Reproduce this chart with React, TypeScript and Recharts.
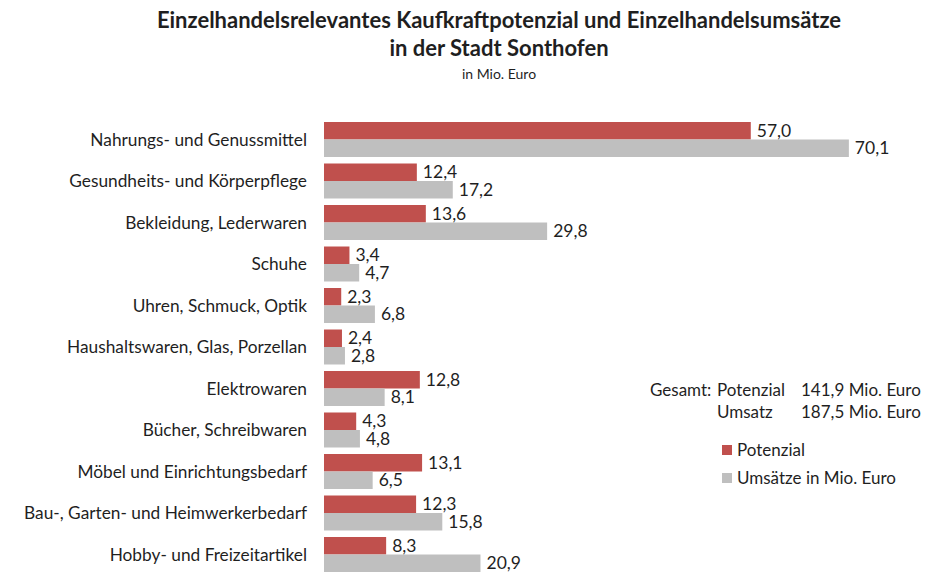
import React from "react";
import { Bar, BarChart, LabelList, XAxis, YAxis } from "recharts";

const categories = [
  "Nahrungs- und Genussmittel",
  "Gesundheits- und Körperpflege",
  "Bekleidung, Lederwaren",
  "Schuhe",
  "Uhren, Schmuck, Optik",
  "Haushaltswaren, Glas, Porzellan",
  "Elektrowaren",
  "Bücher, Schreibwaren",
  "Möbel und Einrichtungsbedarf",
  "Bau-, Garten- und Heimwerkerbedarf",
  "Hobby- und Freizeitartikel"
];
const potenzial = [57.0, 12.4, 13.6, 3.4, 2.3, 2.4, 12.8, 4.3, 13.1, 12.3, 8.3];
const umsatz = [70.1, 17.2, 29.8, 4.7, 6.8, 2.8, 8.1, 4.8, 6.5, 15.8, 20.9];

const RED = "#C0504D";
const GRAY = "#BFBFBF";
const TEXT = "#1f1f1f";
const FONT = "Lato, 'Open Sans', sans-serif";

const data = categories.map((name, i) => ({
  name,
  potenzial: potenzial[i],
  umsatz: umsatz[i]
}));

const fmt = (v: any) => Number(v).toFixed(1).replace(".", ",");

function LegendBlock() {
  const txt = { position: "absolute" as const, whiteSpace: "nowrap" as const };
  return (
    <div
      style={{
        position: "absolute",
        left: 0,
        top: 0,
        fontFamily: FONT,
        fontSize: 17,
        color: TEXT,
        lineHeight: "22px"
      }}
    >
      <span style={{ ...txt, left: 650, top: 379 }}>Gesamt:</span>
      <span style={{ ...txt, left: 717, top: 379 }}>Potenzial</span>
      <span style={{ ...txt, left: 801, top: 379 }}>141,9 Mio. Euro</span>
      <span style={{ ...txt, left: 717, top: 401 }}>Umsatz</span>
      <span style={{ ...txt, left: 801, top: 401 }}>187,5 Mio. Euro</span>
      <span style={{ ...txt, left: 722, top: 445, width: 10, height: 10, background: RED }} />
      <span style={{ ...txt, left: 737, top: 439 }}>Potenzial</span>
      <span style={{ ...txt, left: 722, top: 473, width: 10, height: 10, background: GRAY }} />
      <span style={{ ...txt, left: 737, top: 467 }}>Umsätze in Mio. Euro</span>
    </div>
  );
}

export default function App() {
  return (
    <div
      style={{
        position: "fixed",
        left: 0,
        top: 0,
        width: 941,
        height: 573,
        overflow: "hidden",
        background: "#fff"
      }}
    >
      <BarChart
        width={941}
        height={575.5}
        data={data}
        layout="vertical"
        margin={{ top: 119, right: 18, bottom: 0, left: 0 }}
        barGap={0}
        barCategoryGap={3.25}
        style={{ position: "absolute", left: 0, top: 0 }}
      >
        <XAxis type="number" domain={[0, 80]} hide />
        <YAxis
          type="category"
          dataKey="name"
          width={324}
          tickLine={false}
          axisLine={false}
          tickMargin={11}
          interval={0}
          tick={{ fill: TEXT, fontSize: 17.3, fontFamily: FONT }}
        />
        <Bar dataKey="potenzial" fill={RED} barSize={17.5} isAnimationActive={false}>
          <LabelList
            dataKey="potenzial"
            position="right"
            offset={6}
            formatter={fmt}
            style={{ fill: TEXT, fontSize: 17.5, fontFamily: FONT }}
          />
        </Bar>
        <Bar dataKey="umsatz" fill={GRAY} barSize={17.5} isAnimationActive={false}>
          <LabelList
            dataKey="umsatz"
            position="right"
            offset={6}
            formatter={fmt}
            style={{ fill: TEXT, fontSize: 17.5, fontFamily: FONT }}
          />
        </Bar>
      </BarChart>
      <div
        style={{
          position: "absolute",
          left: 0,
          width: 998,
          top: 6,
          textAlign: "center",
          fontFamily: FONT,
          color: TEXT
        }}
      >
        <div style={{ fontSize: 22, fontWeight: 700, lineHeight: "28px" }}>
          Einzelhandelsrelevantes Kaufkraftpotenzial und Einzelhandelsumsätze
        </div>
        <div style={{ fontSize: 22, fontWeight: 700, lineHeight: "28px" }}>
          in der Stadt Sonthofen
        </div>
        <div style={{ fontSize: 14, lineHeight: "24px" }}>in Mio. Euro</div>
      </div>
      <LegendBlock />
    </div>
  );
}
